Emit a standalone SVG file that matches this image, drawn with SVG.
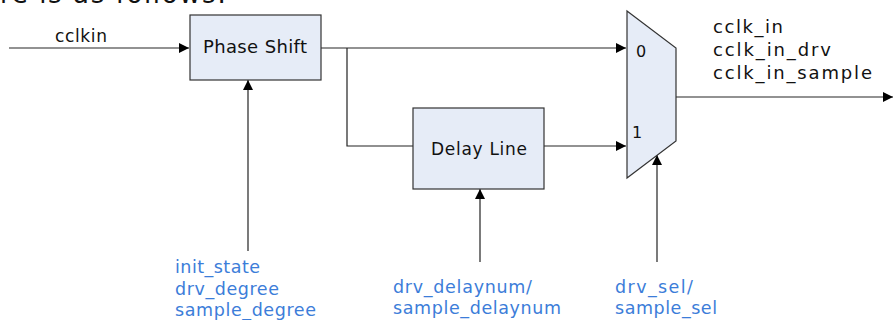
<svg xmlns="http://www.w3.org/2000/svg" width="894" height="320" viewBox="0 0 894 320">
<defs>
<style>
.box{fill:#E6ECF7;stroke:#333;stroke-width:1.2}
.t{font-family:"DejaVu Sans",Verdana,sans-serif;fill:#111}
.b{font-family:"DejaVu Sans",Verdana,sans-serif;fill:#3C7DD9;font-size:17.5px}
.w{fill:none;stroke:#6e6e6e;stroke-width:1.5}
.v{fill:none;stroke:#222;stroke-width:1.2}
</style>
<marker id="ah" viewBox="0 0 10 10" refX="10" refY="5" markerWidth="10" markerHeight="10" markerUnits="userSpaceOnUse" orient="auto">
<path d="M0,0 L10,5 L0,10 z" fill="#000"/>
</marker>
</defs>
<text class="t" x="0" y="3" font-size="26" textLength="226" lengthAdjust="spacing">re is as follows:</text>
<g id="connectors">
<line class="w" x1="9" y1="48" x2="189" y2="48" marker-end="url(#ah)"/>
<line class="w" x1="321" y1="48" x2="626" y2="48" marker-end="url(#ah)"/>
<polyline class="v" points="347,48 347,146 413,146"/>
<line class="w" x1="544" y1="146" x2="626" y2="146" marker-end="url(#ah)"/>
<line class="w" x1="676" y1="97" x2="893" y2="97" marker-end="url(#ah)"/>
<line class="v" x1="248" y1="251" x2="248" y2="80" marker-end="url(#ah)"/>
<line class="v" x1="480" y1="262" x2="480" y2="189" marker-end="url(#ah)"/>
<line class="v" x1="657" y1="262" x2="657" y2="155" marker-end="url(#ah)"/>
</g>
<g id="phase_shift">
<rect class="box" x="190" y="15" width="131" height="65"/>
<text class="t" x="203" y="53" font-size="18" textLength="104" lengthAdjust="spacing">Phase Shift</text>
</g>
<g id="delay_line">
<rect class="box" x="413" y="108" width="131" height="81"/>
<text class="t" x="431" y="155" font-size="17" textLength="96" lengthAdjust="spacing">Delay Line</text>
</g>
<g id="mux">
<polygon class="box" points="627,11 676,48 676,141 627,178"/>
<text class="t" x="636" y="57" font-size="16">0</text>
<text class="t" x="632" y="138" font-size="16">1</text>
</g>
<g id="labels">
<text class="t" x="55" y="42" font-size="17" textLength="52" lengthAdjust="spacing">cclkin</text>
<text class="t" x="713" y="33" font-size="18" textLength="70" lengthAdjust="spacing">cclk_in</text>
<text class="t" x="713" y="56" font-size="18" textLength="118" lengthAdjust="spacing">cclk_in_drv</text>
<text class="t" x="713" y="79" font-size="18" textLength="159" lengthAdjust="spacing">cclk_in_sample</text>
<text class="b" x="175" y="273" textLength="85" lengthAdjust="spacing">init_state</text>
<text class="b" x="175" y="295" textLength="104" lengthAdjust="spacing">drv_degree</text>
<text class="b" x="175" y="316" textLength="141" lengthAdjust="spacing">sample_degree</text>
<text class="b" x="393" y="293" textLength="139" lengthAdjust="spacing">drv_delaynum/</text>
<text class="b" x="393" y="314" textLength="168" lengthAdjust="spacing">sample_delaynum</text>
<text class="b" x="615" y="293" textLength="78" lengthAdjust="spacing">drv_sel/</text>
<text class="b" x="615" y="314" textLength="102" lengthAdjust="spacing">sample_sel</text>
</g>
</svg>
